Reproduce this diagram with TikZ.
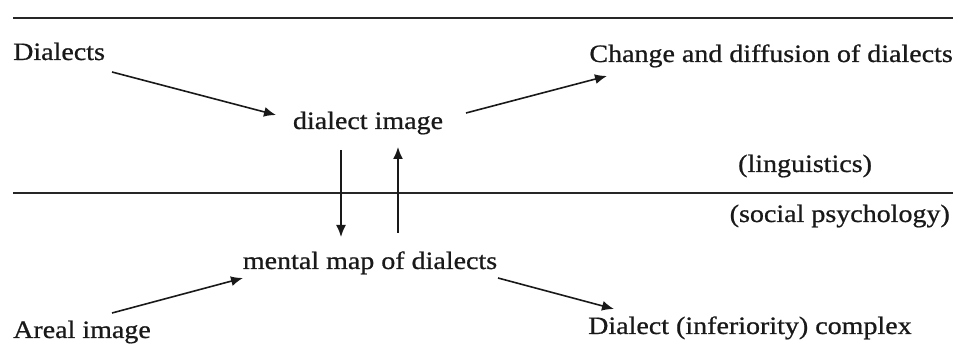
\documentclass[tikz,border=0pt]{standalone}
\usepackage{fontspec}
\setmainfont{Liberation Serif}[FakeStretch=1.12,FakeBold=0.8]
\usetikzlibrary{arrows.meta}
\begin{document}
\begin{tikzpicture}[x=1pt,y=-1pt,
  lbl/.style={inner sep=0pt,font=\fontsize{25}{28}\selectfont,text=black!90},
  rule/.style={line width=1.7pt,black!85},
  arr/.style={line width=1.6pt,black!90,-{Latex[length=12pt,width=10pt]}}]
\useasboundingbox (0,0) rectangle (956,352);
% rules
\coordinate (t1) at (13,18); \coordinate (t2) at (953,18);
\coordinate (m1) at (13,193); \coordinate (m2) at (953,193);
\draw[rule,line width=2.3pt] (t1) -- (t2);
\draw[rule] (m1) -- (m2);
% texts
\node[lbl,anchor=base west] (dia) at (13,60) {Dialects};
\node[lbl,anchor=base] (img) at (368,129) {dialect image};
\node[lbl,anchor=base east] (chg) at (953,62) {Change and diffusion of dialects};
\node[lbl,anchor=base west] (lin) at (738,172) {(linguistics)};
\node[lbl,anchor=base east] (soc) at (950,222) {(social psychology)};
\node[lbl,anchor=base] (map) at (370,269) {mental map of dialects};
\node[lbl,anchor=base west] (are) at (13,338) {Areal image};
\node[lbl,anchor=base west] (cpx) at (588,334) {Dialect (inferiority) complex};
% connector ends
\coordinate (a1s) at (112,72);  \coordinate (a1e) at (276,115);
\coordinate (a2s) at (466,113); \coordinate (a2e) at (607,76);
\coordinate (a3s) at (341,150); \coordinate (a3e) at (341,237);
\coordinate (a4s) at (398,233); \coordinate (a4e) at (398,147);
\coordinate (a5s) at (112,313); \coordinate (a5e) at (243,278);
\coordinate (a6s) at (498,278); \coordinate (a6e) at (614,309);
\draw[arr] (a1s) -- (a1e);
\draw[arr] (a2s) -- (a2e);
\draw[arr] (a3s) -- (a3e);
\draw[arr] (a4s) -- (a4e);
\draw[arr] (a5s) -- (a5e);
\draw[arr] (a6s) -- (a6e);
\end{tikzpicture}
\end{document}
